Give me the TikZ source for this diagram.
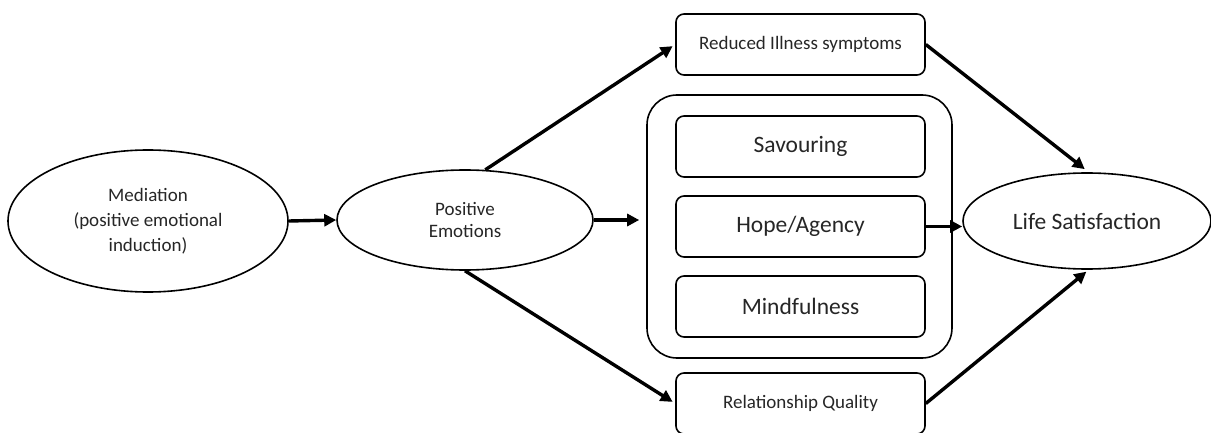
\documentclass[tikz,border=0pt]{standalone}
\usepackage{fontspec}
\setmainfont{Carlito}
\usetikzlibrary{shapes.geometric,arrows.meta}
\definecolor{ink}{HTML}{262626}
\tikzset{
  oval/.style={ellipse, draw=black, line width=1.6pt, inner sep=0pt, align=center, text=ink},
  smallbox/.style={rectangle, rounded corners=8pt, draw=black, line width=1.6pt,
    minimum width=249pt, minimum height=61pt, inner sep=0pt, align=center, text=ink},
  outerbox/.style={rectangle, rounded corners=30pt, draw=black, line width=1.6pt,
    minimum width=305pt, minimum height=263pt, inner sep=0pt},
  flow/.style={line width=3.4pt, -{Triangle[length=12pt,width=12pt]}},
  smalltext/.style={font=\fontsize{19}{22}\selectfont},
  bigtext/.style={font=\fontsize{23.5}{26}\selectfont}
}
\begin{document}
\begin{tikzpicture}[x=1pt,y=-1pt]
  \useasboundingbox (0,0) rectangle (1211,433);
  % ovals
  \node[oval, minimum width=280pt, minimum height=142pt, font=\fontsize{19}{25}\selectfont] (med) at (148,221)
    {Mediation\\(positive emotional\\induction)};
  \node[oval, smalltext, minimum width=256pt, minimum height=100pt] (pe) at (465,220)
    {Positive\\Emotions};
  \node[oval, bigtext, minimum width=248pt, minimum height=96pt] (ls) at (1087,221)
    {Life Satisfaction};
  % outcome boxes
  \node[smallbox, smalltext] (ri) at (800.5,44.5) {Reduced Illness symptoms};
  \node[smallbox, smalltext] (rq) at (800.5,403.5) {Relationship Quality};
  % grouped mediators
  \node[outerbox] (grp) at (799.5,226.5) {};
  \node[smallbox, bigtext] (sav) at (800.5,146.5) {Savouring};
  \node[smallbox, bigtext] (hope) at (800.5,226.5) {Hope/Agency};
  \node[smallbox, bigtext] (mind) at (800.5,306.5) {Mindfulness};
  % connectors
  \draw[flow] (med.east) -- (pe.west);
  \draw[flow, shorten >=7pt] (pe.east) -- (pe.east -| grp.west);
  \draw[flow, shorten >=3pt] (pe.68) -- (ri.west);
  \draw[flow, shorten >=3pt] (pe.south) -- (rq.west);
  \draw[flow, shorten >=5pt] (ri.east) -- (ls.88);
  \draw[flow, shorten >=3pt] (rq.east) -- (ls.272);
  \draw[flow] (hope.east) -- (hope.east -| ls.west);
\end{tikzpicture}
\end{document}
